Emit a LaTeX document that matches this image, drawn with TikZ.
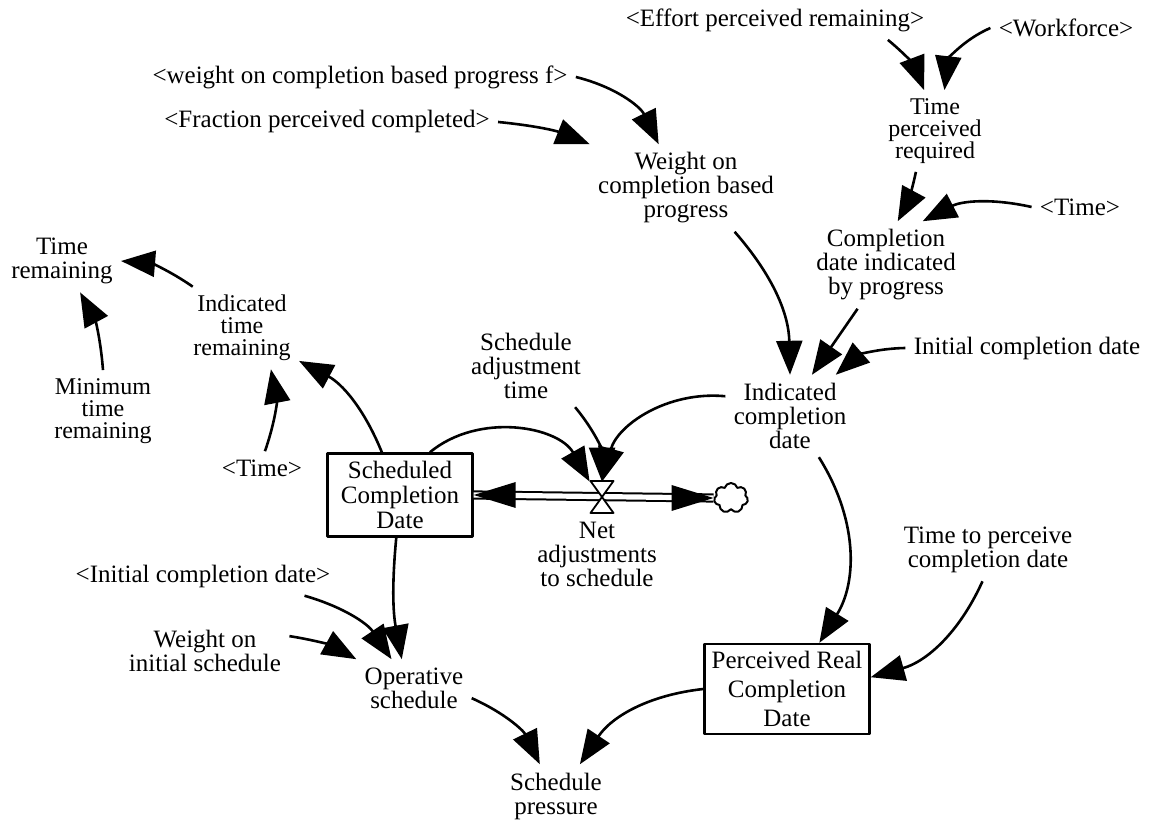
\documentclass[tikz,border=0pt]{standalone}
\usepackage{fontspec}
\setmainfont{Liberation Serif}
\usetikzlibrary{arrows.meta,shapes.symbols}
\begin{document}
\begin{tikzpicture}[x=0.5pt,y=0.5pt,>={Triangle[length=17pt,width=13pt]},line join=round,
  var/.style={align=center,inner sep=4pt,font=\fontsize{12.5}{12}\selectfont},
  tight/.style={var,font=\fontsize{12}{11}\selectfont},
  shadowvar/.style={var},
  stock/.style={draw,line width=1.2pt,align=center,inner sep=2pt,font=\fontsize{12.5}{12.5}\selectfont},
  link/.style={->,line width=1.3pt}]
\useasboundingbox (0,0) rectangle (1151,823);
\node[var] (tr) at (62,562) {Time\\remaining};
\node[tight] (itr) at (242,495) {Indicated\\time\\remaining};
\node[tight] (mtr) at (103,412) {Minimum\\time\\remaining};
\node[var] (sat) at (526,457) {Schedule\\adjustment\\time};
\node[var] (icd) at (790,407) {Indicated\\completion\\date};
\node[var] (initcd) at (1027,475) {Initial completion date};
\node[var] (tpcd) at (988,273) {Time to perceive\\completion date};
\node[var] (cdip) at (886,558) {Completion\\date indicated\\by progress};
\node[var] (wcbp) at (686,635) {Weight on\\completion based\\progress};
\node[tight] (tpr) at (935,692) {Time\\perceived\\required};
\node[shadowvar] (time1) at (1080,616) {<Time>};
\node[shadowvar] (epr) at (775,803) {<Effort perceived remaining>};
\node[shadowvar] (wf) at (1066,795) {<Workforce>};
\node[shadowvar] (wcbpf) at (360,746) {<weight on completion based progress f>};
\node[shadowvar] (fpc) at (327,701) {<Fraction perceived completed>};
\node[shadowvar] (time2) at (262,355) {<Time>};
\node[stock,minimum width=72.5pt,minimum height=41.5pt] (sched) at (400,328) {Scheduled\\Completion\\Date};
\node[minimum width=12pt,minimum height=15pt,inner sep=0pt] (valve) at (602,326) {};
\node[cloud,draw,cloud puffs=7,aspect=1.1,minimum width=17pt,minimum height=15pt,inner sep=0pt,line width=1pt] (sink) at (731,325) {};
\node[var] (net) at (597,269) {Net\\adjustments\\to schedule};
\node[stock,minimum width=82.5pt,minimum height=45pt,font=\fontsize{12.5}{14.5}\selectfont] (prcd) at (787,134) {Perceived Real\\Completion\\Date};
\node[shadowvar] (initcd2) at (203,247) {<Initial completion date>};
\node[var] (wis) at (205,172) {Weight on\\initial schedule};
\node[var] (os) at (414,135) {Operative\\schedule};
\node[var] (sp) at (556,27) {Schedule\\pressure};
% flow pipe with valve
\draw[line width=1pt,double,double distance=2.6pt] (sched.east) -- (sink.west);
\fill (sched.east) -- ++(21pt,6.5pt) -- ++(0,-13pt) -- cycle;
\fill (sink.west) -- ++(-21pt,6.5pt) -- ++(0,-13pt) -- cycle;
\draw[line width=0.9pt,fill=white] (valve.center) -- ++(-5.75pt,-8pt) -- ++(11.5pt,0) -- cycle
  (valve.center) -- ++(-5.75pt,8pt) -- ++(11.5pt,0) -- cycle;
% links
\draw[link] (itr.140) to[bend right=15] (tr.east);
\draw[link] (mtr.north) to[bend right=12] (tr.-60);
\draw[link] (time2.80) to[bend right=15] (itr.-55);
\draw[link] (sched.113) to[bend right=20] (itr.-30);
\draw[link] (sched.55) to[bend left=50] (valve.north west);
\draw[link] (sat.-40) to[bend left=20] (valve.north);
\draw[link] (icd.163) to[bend right=40] (valve.north);
\draw[link] (wcbpf.east) to[bend left=25] (wcbp.122);
\draw[link] (fpc.east) to[bend left=8] (wcbp.north west);
\draw[link] (epr.-10) to[bend left=15] (tpr.105);
\draw[link] (wf.west) to[bend right=30] (tpr.77);
\draw[link] (tpr.-115) to[bend left=8] (cdip.75);
\draw[link] (time1.west) to[bend right=20] (cdip.50);
\draw[link] (wcbp.-42) to[bend left=20] (icd.north);
\draw[link] (cdip.-123) -- (icd.62);
\draw[link] (initcd.west) to[bend right=20] (icd.42);
\draw[link] (icd.-55) to[bend left=32] (prcd.55);
\draw[link] (tpcd.-100) to[bend left=25] (prcd.8);
\draw[link] (sched.-95) to[bend right=8] (os.113);
\draw[link] (initcd2.-11) to[bend left=20] (os.128);
\draw[link] (wis.10) to[bend left=10] (os.north west);
\draw[link] (os.-10) to[bend left=20] (sp.117);
\draw[link] (prcd.west) to[bend right=25] (sp.53);
\end{tikzpicture}
\end{document}
